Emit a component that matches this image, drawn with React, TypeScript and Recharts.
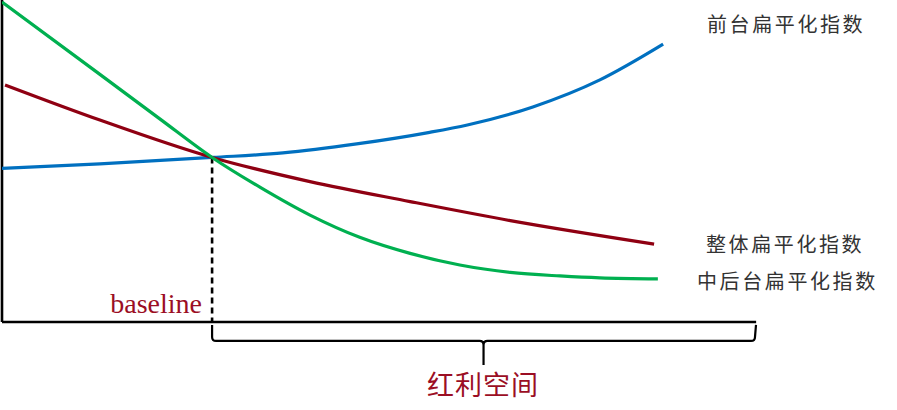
import React from "react";
import { LineChart, Line, XAxis, YAxis, ReferenceLine, Customized } from "recharts";

// x and y are in abstract 0–100 units
const frontX = [0, 13.0, 27.9, 37.3, 47.1, 56.8, 61.8, 70.5, 79.4, 87.8];
const frontY = [47.7, 49.1, 51.1, 52.5, 55.3, 58.9, 61.2, 66.8, 75.2, 86.3];

const overallX = [0.4, 13.0, 27.9, 40.9, 54.2, 67.5, 86.6];
const overallY = [73.6, 62.7, 51.1, 43.6, 37.4, 31.5, 24.2];

const backX = [0, 13.0, 21.0, 27.9, 34.3, 40.9, 47.5, 54.2, 60.8, 67.5, 74.1, 79.4, 87.1];
const backY = [99.4, 76.9, 63.0, 51.1, 41.8, 33.2, 26.3, 21.3, 17.7, 15.4, 14.3, 13.7, 13.4];

const baselineX = 27.9;
const baselineY = 51.1;
const endX = 100;
const axisEndX = 100.15;

const seriesNames = ["前台扁平化指数", "整体扁平化指数", "中后台扁平化指数"];
const baselineLabel = "baseline";
const dividendLabel = "红利空间";

const zip = (xs: number[], ys: number[]) => xs.map((x, i) => ({ x, y: ys[i] }));
const frontData = zip(frontX, frontY);
const overallData = zip(overallX, overallY);
const backData = zip(backX, backY);

const DARK_RED = "#9B0E24";

const Brace = (props: any) => {
  const { x1, x2, y1 } = props;
  const xL = x1;
  const xR = x2;
  const xm = (xL + xR) / 2;
  const t = y1;
  const d = [
    `M ${xL} ${t}`,
    `L ${xL} ${t + 12}`,
    `Q ${xL} ${t + 16} ${xL + 4} ${t + 16}`,
    `L ${xm - 4} ${t + 16}`,
    `Q ${xm} ${t + 16} ${xm} ${t + 20}`,
    `L ${xm} ${t + 40}`,
    `M ${xm} ${t + 20}`,
    `Q ${xm} ${t + 16} ${xm + 4} ${t + 16}`,
    `L ${xR - 4} ${t + 16}`,
    `Q ${xR} ${t + 16} ${xR} ${t + 12}`,
    `L ${xR + 1} ${t}`,
  ].join(" ");
  return <path d={d} fill="none" stroke="#000" strokeWidth={2.2} />;
};

const Labels = () => (
  <g>
    <text x={707} y={23} dominantBaseline="central" fontFamily="'Noto Sans CJK SC'" fontSize={20} letterSpacing={2.6} fill="#333">
      {seriesNames[0]}
    </text>
    <text x={706} y={243} dominantBaseline="central" fontFamily="'Noto Sans CJK SC'" fontSize={20} letterSpacing={2.6} fill="#333">
      {seriesNames[1]}
    </text>
    <text x={697} y={280} dominantBaseline="central" fontFamily="'Noto Sans CJK SC'" fontSize={20} letterSpacing={2.6} fill="#333">
      {seriesNames[2]}
    </text>
    <text x={202} y={313} textAnchor="end" fontFamily="'Liberation Serif'" fontSize={28} fill={DARK_RED}>
      {baselineLabel}
    </text>
    <text x={483} y={383} textAnchor="middle" dominantBaseline="central" fontFamily="'Noto Sans CJK SC'" fontSize={27} letterSpacing={1} fill={DARK_RED}>
      {dividendLabel}
    </text>
  </g>
);

export default function App() {
  return (
    <div style={{ position: "absolute", left: 0, top: 0, width: 897, height: 410, background: "#fff" }}>
      <LineChart width={897} height={410} margin={{ top: 0, right: 142, bottom: 88, left: 2 }}>
        <XAxis type="number" dataKey="x" domain={[0, 100]} allowDataOverflow hide />
        <YAxis type="number" domain={[0, 100]} allowDataOverflow hide />
        <ReferenceLine
          segment={[{ x: 0, y: 0 }, { x: axisEndX, y: 0 }]}
          stroke="#000"
          strokeWidth={2.6}
          ifOverflow="visible"
        />
        <ReferenceLine
          segment={[{ x: 0, y: 0 }, { x: 0, y: 100 }]}
          stroke="#000"
          strokeWidth={2.6}
          ifOverflow="visible"
        />
        <ReferenceLine
          segment={[{ x: baselineX, y: baselineY }, { x: baselineX, y: 0 }]}
          stroke="#000"
          strokeWidth={2.6}
          strokeDasharray="6 4"
          ifOverflow="visible"
        />
        <ReferenceLine
          segment={[{ x: baselineX, y: -0.9 }, { x: endX, y: -0.9 }]}
          ifOverflow="visible"
          shape={(p: any) => <Brace {...p} />}
        />
        <Line data={frontData} dataKey="y" type="monotone" stroke="#0070C0" strokeWidth={3.2} dot={false} activeDot={false} isAnimationActive={false} />
        <Line data={overallData} dataKey="y" type="monotone" stroke="#8F0012" strokeWidth={3.2} dot={false} activeDot={false} isAnimationActive={false} />
        <Line data={backData} dataKey="y" type="monotone" stroke="#00B050" strokeWidth={3.2} dot={false} activeDot={false} isAnimationActive={false} />
        <Customized component={<Labels />} />
      </LineChart>
    </div>
  );
}
